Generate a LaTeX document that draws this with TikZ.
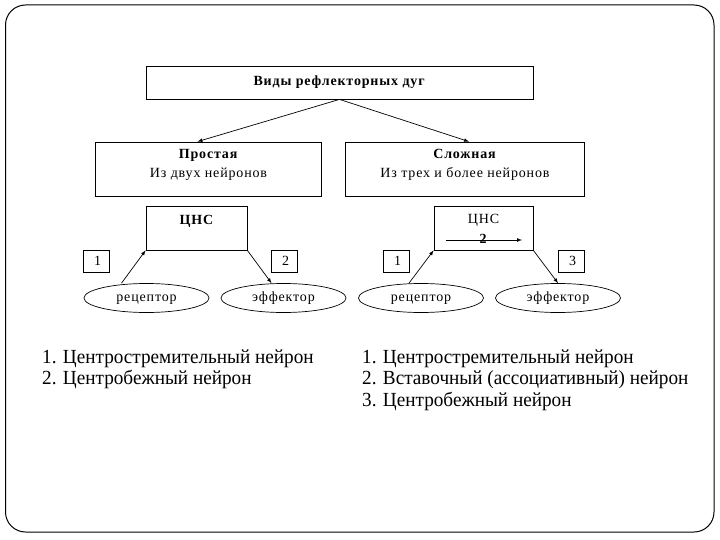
\documentclass[tikz,border=0pt]{standalone}
\usepackage{fontspec}
\setmainfont{Liberation Serif}
\newfontfamily\boxfont[LetterSpace=6]{Liberation Serif}
\newfontfamily\legfont[FakeStretch=0.96]{Liberation Serif}
\usepackage{tikz}
\usetikzlibrary{shapes,positioning}

\begin{document}
\begin{tikzpicture}[x=1pt,y=-1pt]

        \tikzstyle{arcbox}=[draw,line width=0.8pt,inner sep=0pt,align=center,font=\boxfont\fontsize{14}{19}\selectfont]
        \tikzstyle{numbox}=[draw,line width=0.7pt,inner sep=0pt,minimum width=26pt,minimum height=22pt,font=\boxfont\fontsize{14}{14}\selectfont]
        \tikzstyle{organ}=[ellipse,draw,line width=0.7pt,inner sep=0pt,minimum width=125pt,minimum height=29pt,text height=9pt,text depth=3pt,font=\boxfont\fontsize{14}{14}\selectfont]
        \tikzstyle{legend}=[anchor=base west,inner sep=0pt,font=\legfont\fontsize{20}{22}\selectfont]
        \tikzstyle{arc}=[->,>=latex,line width=0.7pt]

        \useasboundingbox (0,0) rectangle (720,540);
        \draw[line width=1pt,rounded corners=20pt] (5.5,5) rectangle (714,532);

        %% Kinds of arcs
        \node[arcbox,minimum width=387pt,minimum height=33pt] (kinds) at (339.5,82.5) {\textbf{Виды рефлекторных дуг}};
        \node[arcbox,minimum width=226pt,minimum height=54pt,text depth=12pt] (simple) at (208.5,169) {\textbf{Простая}\\Из двух нейронов};
        \node[arcbox,minimum width=239pt,minimum height=54pt,text depth=12pt] (complex) at (465,169) {\textbf{Сложная}\\Из трех и более нейронов};

        \draw[arc] (kinds.south) -- ([xshift=-11pt]simple.north);
        \draw[arc] (kinds.south) -- ([xshift=4pt]complex.north);

        %% Simple arc
        \node[arcbox,minimum width=101pt,minimum height=44pt] (cns1) at (196.5,228) {};
        \node[font=\boxfont\fontsize{14}{14}\selectfont\bfseries,inner sep=0pt,below=9pt of cns1.north] (cnstext1) {ЦНС};
        \node[numbox] (num11) at (96.5,261) {\,1};
        \node[numbox] (num12) at (284.5,261) {\,2};
        \node[organ] (rec1) at (146.5,298) {рецептор};
        \node[organ] (eff1) at (283.5,298) {эффектор};

        \draw[arc] ([xshift=-25pt]rec1.north) -- (cns1.south west);
        \draw[arc] (cns1.south east) -- ([xshift=-12pt]eff1.north);

        %% Complex arc
        \node[arcbox,minimum width=99pt,minimum height=44pt] (cns2) at (483.5,228) {};
        \node[font=\boxfont\fontsize{14}{14}\selectfont,inner sep=0pt,below=8pt of cns2.north] (cnstext2) {ЦНС};
        \coordinate (inter2a) at (446,240);
        \coordinate (inter2b) at (522,240);
        \draw[arc] (inter2a) -- (inter2b);
        \node[font=\boxfont\fontsize{14}{14}\selectfont\bfseries,inner sep=0pt] (inter2) at (483,239) {2};
        \node[numbox] (num21) at (396.5,261) {\,1};
        \node[numbox] (num23) at (571.5,261) {\,3};
        \node[organ] (rec2) at (421,298) {рецептор};
        \node[organ] (eff2) at (558,298) {эффектор};

        \draw[arc] ([xshift=-12pt]rec2.north) -- (cns2.south west);
        \draw[arc] (cns2.south east) -- (eff2.north);

        %% Legends
        \node[legend] (leg11) at (42,363) {1. Центростремительный нейрон};
        \node[legend] (leg12) at (42,384.5) {2. Центробежный нейрон};
        \node[legend] (leg21) at (362,363) {1. Центростремительный нейрон};
        \node[legend] (leg22) at (362,384.5) {2. Вставочный (ассоциативный) нейрон};
        \node[legend] (leg23) at (362,406) {3. Центробежный нейрон};

\end{tikzpicture}
\end{document}
